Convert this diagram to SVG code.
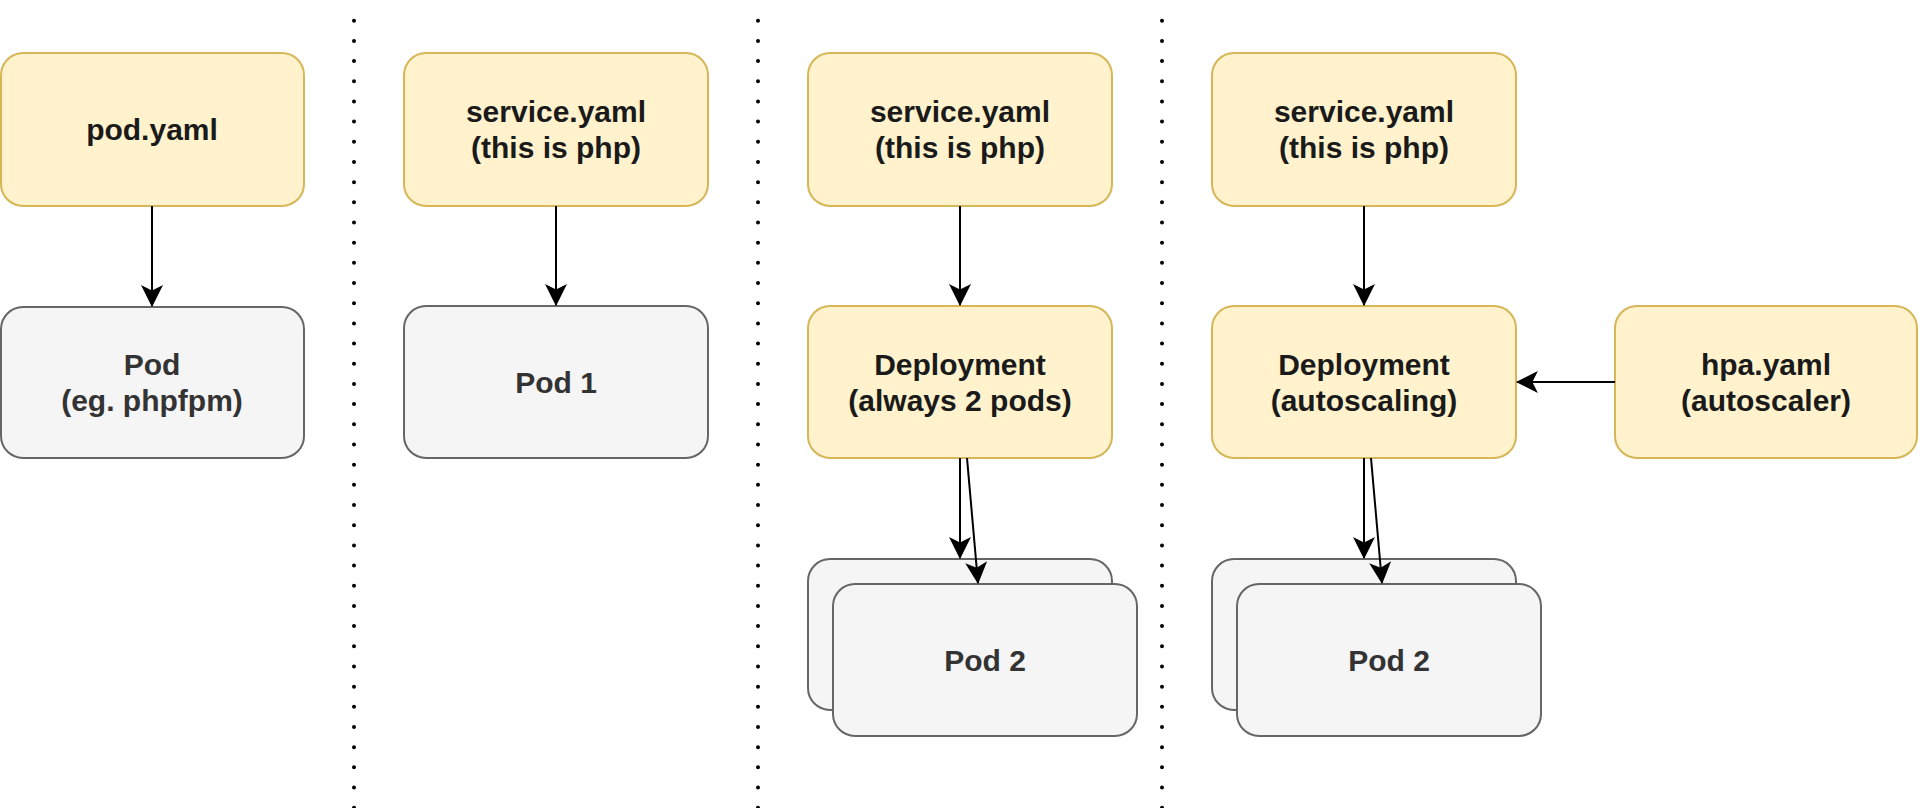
<svg xmlns="http://www.w3.org/2000/svg" width="1920" height="808" viewBox="0 0 1920 808">
  <style>
    .yellow rect { fill: #fff2cc; stroke: #d6b656; stroke-width: 2; }
    .gray rect { fill: #f5f5f5; stroke: #666666; stroke-width: 2; }
    text { font-family: "Liberation Sans", Arial, Helvetica, sans-serif; font-weight: bold; font-size: 30px; text-anchor: middle; }
    .yellow text { fill: #1a1a1a; }
    .gray text { fill: #333333; }
    .conn path { fill: none; stroke: #000000; stroke-width: 2; marker-end: url(#arrow); }
    .sep { stroke: #000000; stroke-width: 4; stroke-linecap: round; stroke-dasharray: 0 20.18; fill: none; }
  </style>
  <defs>
    <marker id="arrow" markerUnits="userSpaceOnUse" markerWidth="22" markerHeight="22" viewBox="0 0 20 20" refX="19" refY="10" orient="auto">
      <path d="M0,0 L20,10 L0,20 L5,10 Z" fill="#000000"/>
    </marker>
  </defs>
  <rect width="1920" height="808" fill="#ffffff"/>

  <g id="separators">
    <line class="sep" x1="354" y1="20.7" x2="354" y2="808"/>
    <line class="sep" x1="758" y1="20.7" x2="758" y2="808"/>
    <line class="sep" x1="1162" y1="20.7" x2="1162" y2="808"/>
  </g>

  <g id="pod-yaml" class="yellow">
    <rect x="1" y="53" width="303" height="153" rx="22"/>
    <text x="152" y="140">pod.yaml</text>
  </g>
  <g id="pod" class="gray">
    <rect x="1" y="307" width="303" height="151" rx="22"/>
    <text x="152" y="375">Pod</text>
    <text x="152" y="411">(eg. phpfpm)</text>
  </g>

  <g id="service-yaml-2" class="yellow">
    <rect x="404" y="53" width="304" height="153" rx="22"/>
    <text x="556" y="122">service.yaml</text>
    <text x="556" y="158">(this is php)</text>
  </g>
  <g id="pod-1" class="gray">
    <rect x="404" y="306" width="304" height="152" rx="22"/>
    <text x="556" y="393">Pod 1</text>
  </g>

  <g id="service-yaml-3" class="yellow">
    <rect x="808" y="53" width="304" height="153" rx="22"/>
    <text x="960" y="122">service.yaml</text>
    <text x="960" y="158">(this is php)</text>
  </g>
  <g id="deployment-3" class="yellow">
    <rect x="808" y="306" width="304" height="152" rx="22"/>
    <text x="960" y="375">Deployment</text>
    <text x="960" y="411">(always 2 pods)</text>
  </g>
  <g id="pod-2-back-3" class="gray">
    <rect x="808" y="559" width="304" height="151" rx="22"/>
  </g>
  <g id="pod-2-front-3" class="gray">
    <rect x="833" y="584" width="304" height="152" rx="22"/>
    <text x="985" y="671">Pod 2</text>
  </g>

  <g id="service-yaml-4" class="yellow">
    <rect x="1212" y="53" width="304" height="153" rx="22"/>
    <text x="1364" y="122">service.yaml</text>
    <text x="1364" y="158">(this is php)</text>
  </g>
  <g id="deployment-4" class="yellow">
    <rect x="1212" y="306" width="304" height="152" rx="22"/>
    <text x="1364" y="375">Deployment</text>
    <text x="1364" y="411">(autoscaling)</text>
  </g>
  <g id="pod-2-back-4" class="gray">
    <rect x="1212" y="559" width="304" height="151" rx="22"/>
  </g>
  <g id="pod-2-front-4" class="gray">
    <rect x="1237" y="584" width="304" height="152" rx="22"/>
    <text x="1389" y="671">Pod 2</text>
  </g>
  <g id="hpa-yaml" class="yellow">
    <rect x="1615" y="306" width="302" height="152" rx="22"/>
    <text x="1766" y="375">hpa.yaml</text>
    <text x="1766" y="411">(autoscaler)</text>
  </g>

  <g id="connectors" class="conn">
    <path d="M152,206 L152,306"/>
    <path d="M556,206 L556,305"/>
    <path d="M960,206 L960,305"/>
    <path d="M1364,206 L1364,305"/>
    <path d="M960,458 L960,558"/>
    <path d="M967,458 L978,583"/>
    <path d="M1364,458 L1364,558"/>
    <path d="M1371,458 L1382,583"/>
    <path d="M1615,382 L1517,382"/>
  </g>
</svg>
